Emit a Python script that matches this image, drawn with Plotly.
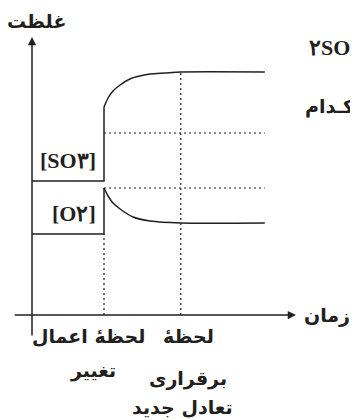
import plotly.graph_objects as go

# ---- data (time units, concentration units) ----
t_change = 3.0
t_eq = 6.2
t_end = 9.7

so3_before_t = [0.0, 3.0, 3.0]
so3_before_c = [6.7, 6.7, 10.4]
so3_curve_t = [3.0, 3.17, 3.375, 3.67, 4.08, 4.5, 4.92, 5.54, 6.2, 9.7]
so3_curve_c = [10.4, 10.85, 11.2, 11.5, 11.8, 11.95, 12.05, 12.1, 12.15, 12.15]

o2_before_t = [0.0, 3.0, 3.0]
o2_before_c = [4.05, 4.05, 6.35]
o2_curve_t = [3.0, 3.17, 3.375, 3.67, 4.21, 4.92, 6.2, 9.7]
o2_curve_c = [6.35, 5.95, 5.6, 5.3, 4.9, 4.7, 4.6, 4.6]

ref_levels = [9.1, 6.35]

y_label = "غلظت"
x_label = "زمان"
so3_label = "[SO۳]"
o2_label = "[O۲]"
change_label = ["لحظهٔ اعمال", "تغییر"]
eq_label = ["لحظهٔ", "برقراری", "تعادل جدید"]

INK = "#231f20"
AR_FONT = "DejaVu Sans"

fig = go.Figure()

solid = dict(color=INK, width=1.5)
dot = dict(color=INK, width=1.2, dash="2px,3px")

# dotted guides
fig.add_trace(go.Scatter(x=[t_change, t_change], y=[0, o2_before_c[0]], mode="lines", line=dot, hoverinfo="skip"))
fig.add_trace(go.Scatter(x=[t_eq, t_eq], y=[0, so3_curve_c[-1]], mode="lines", line=dot, hoverinfo="skip"))
for lv in ref_levels:
    fig.add_trace(go.Scatter(x=[t_change, t_end], y=[lv, lv], mode="lines", line=dot, hoverinfo="skip"))

# step parts
fig.add_trace(go.Scatter(x=so3_before_t, y=so3_before_c, mode="lines", line=solid, hoverinfo="skip"))
fig.add_trace(go.Scatter(x=o2_before_t, y=o2_before_c, mode="lines", line=solid, hoverinfo="skip"))
# curves
fig.add_trace(go.Scatter(x=so3_curve_t, y=so3_curve_c, mode="lines",
                         line=dict(color=INK, width=1.5, shape="spline", smoothing=0.8), hoverinfo="skip"))
fig.add_trace(go.Scatter(x=o2_curve_t, y=o2_curve_c, mode="lines",
                         line=dict(color=INK, width=1.5, shape="spline", smoothing=0.8), hoverinfo="skip"))

# axes with arrows
ann = []
ann.append(dict(x=0, y=13.9, ax=0, ay=-1.1, xref="x", yref="y", axref="x", ayref="y",
                showarrow=True, arrowhead=2, arrowsize=1.1, arrowwidth=1.5, arrowcolor=INK, text=""))
ann.append(dict(x=11.0, y=0, ax=-0.78, ay=0, xref="x", yref="y", axref="x", ayref="y",
                showarrow=True, arrowhead=2, arrowsize=1.1, arrowwidth=1.5, arrowcolor=INK, text=""))

def txt(x, y, s, size, family=AR_FONT, xanchor="center", bold=True):
    return dict(x=x, y=y, xref="x", yref="y", text=f"<b>{s}</b>" if bold else s, showarrow=False,
                xanchor=xanchor, yanchor="middle", font=dict(family=family, size=size, color=INK))

ann.append(txt(0.2, 14.7, y_label, 19))
ann.append(txt(12.3, 0.0, x_label, 19, xanchor="center"))
ann.append(txt(1.5, 7.75, so3_label, 22, family="Liberation Serif"))
ann.append(txt(1.75, 5.1, o2_label, 22, family="Liberation Serif"))
ann.append(txt(2.35, -1.05, change_label[0], 19))
ann.append(txt(2.55, -2.75, change_label[1], 19))
ann.append(txt(6.5, -1.05, eq_label[0], 19))
ann.append(txt(6.5, -3.15, eq_label[1], 19))
ann.append(txt(6.25, -4.6, eq_label[2], 19))
# surrounding page text fragments
ann.append(txt(11.45, 13.4, "۲SO", 22, family="Liberation Serif", xanchor="left"))
ann.append(txt(11.3, 10.45, "کـدام", 19, xanchor="left"))

# page has an 8px body margin: figure sized/ranged so data lands where the reference shows it
fig.update_layout(
    width=350, height=412,
    margin=dict(l=0, r=0, t=0, b=0),
    paper_bgcolor="white", plot_bgcolor="white",
    showlegend=False,
    xaxis=dict(range=[-1.0, (358 - 32) / 24], visible=False, fixedrange=True),
    yaxis=dict(range=[-5.25, 15.35], visible=False, fixedrange=True),
    annotations=ann,
)

fig.write_html("out.html", config={"displayModeBar": False})
